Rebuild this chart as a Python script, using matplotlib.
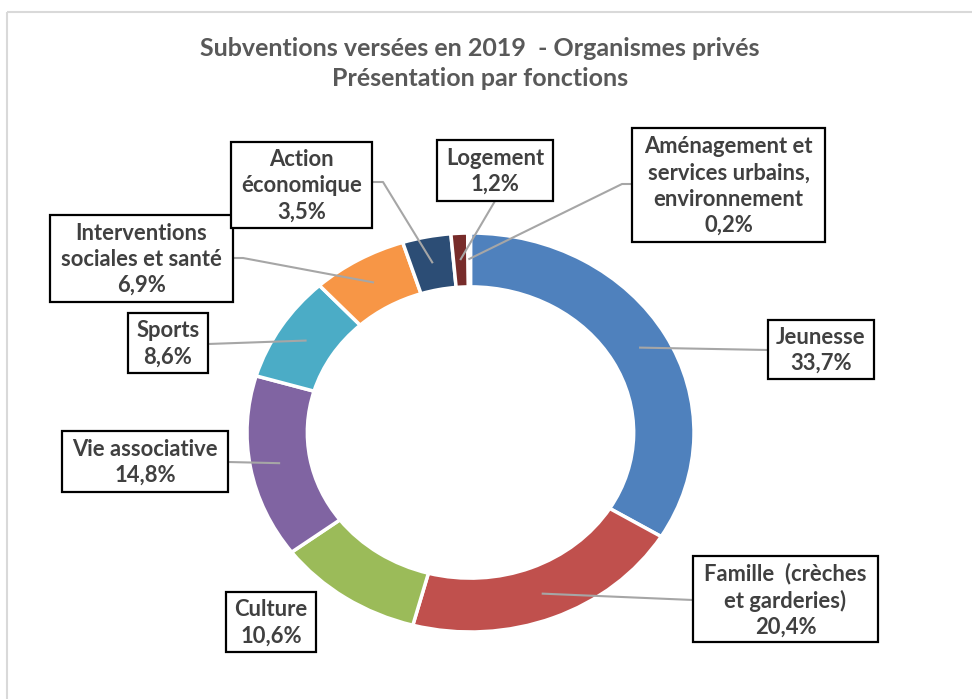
import matplotlib.pyplot as plt
from matplotlib.patches import Rectangle
import numpy as np

# Données : subventions 2019, organismes privés, par fonction (%)
categories = ['Jeunesse', 'Famille  (crèches\net garderies)', 'Culture', 'Vie associative',
              'Sports', 'Interventions\nsociales et santé', 'Action\néconomique',
              'Logement', 'Aménagement et\nservices urbains,\nenvironnement']
values = [33.7, 20.4, 10.6, 14.8, 8.6, 6.9, 3.5, 1.2, 0.2]
value_labels = ['33,7%', '20,4%', '10,6%', '14,8%', '8,6%', '6,9%', '3,5%', '1,2%', '0,2%']
colors = ['#4F81BD', '#C0504D', '#9BBB59', '#8064A2', '#4BACC6',
          '#F79646', '#2C4D75', '#772C2A', '#4F6228']

# label boxes in pixels (x0, y0, x1, y1), leader end on box and optional elbow
boxes = [(768, 320, 874, 379), (693, 556, 878, 642), (226, 592, 316, 652),
         (62, 431, 228, 492), (128, 313, 208, 373), (50, 215, 233, 302),
         (231, 142, 372, 228), (437, 140, 553, 201), (632, 128, 825, 242)]
leader_ends = [(768, 350), (693, 600), None, (228, 462), (208, 344),
               (233, 258), (372, 182), (495, 201), (632, 184)]
elbows = [None, None, None, None, None, (243, 258), (383, 182), None, (622, 184)]

W, H = 972, 699
CX, CY, RX, RY = 470.5, 432.5, 223.5, 199.5

plt.rcParams['font.family'] = ['Lato', 'DejaVu Sans']
fig = plt.figure(figsize=(W / 100, H / 100), dpi=100)

# donut axes (slightly elliptical like the original)
ax = fig.add_axes([(CX - RX) / W, (H - CY - RY) / H, 2 * RX / W, 2 * RY / H])
wedges, _ = ax.pie(values, colors=colors, startangle=90, counterclock=False, radius=1,
                   wedgeprops=dict(width=0.27, edgecolor='white', linewidth=2.5))
ax.set_aspect('auto')
ax.set_xlim(-1, 1)
ax.set_ylim(-1, 1)
ax.axis('off')


def to_data(px, py):
    return (px - CX) / RX, (CY - py) / RY


# leader lines from wedge middle to label box
for w, end, elbow in zip(wedges, leader_ends, elbows):
    if end is None:
        continue
    a = np.deg2rad((w.theta1 + w.theta2) / 2)
    xs = [0.87 * np.cos(a)]
    ys = [0.87 * np.sin(a)]
    for p in (elbow, end):
        if p is not None:
            x, y = to_data(*p)
            xs.append(x)
            ys.append(y)
    ax.plot(xs, ys, color='#A6A6A6', lw=1.5, clip_on=False, zorder=3)

# overlay in pixel coordinates for frame, title and label boxes
ov = fig.add_axes([0, 0, 1, 1], zorder=5)
ov.set_xlim(0, W)
ov.set_ylim(H, 0)
ov.axis('off')
ov.patch.set_alpha(0)

ov.add_patch(Rectangle((7, 12), 1000, 720, fill=False, ec='#D9D9D9', lw=1.5))

ov.text(480, 48, 'Subventions versées en 2019  - Organismes privés',
        ha='center', va='center', fontsize=18, fontweight='bold', color='#595959')
ov.text(480, 79, 'Présentation par fonctions',
        ha='center', va='center', fontsize=18, fontweight='bold', color='#595959')

for cat, lab, (x0, y0, x1, y1) in zip(categories, value_labels, boxes):
    ov.add_patch(Rectangle((x0, y0), x1 - x0, y1 - y0, fc='white', ec='black', lw=1.6))
    ov.text((x0 + x1) / 2, (y0 + y1) / 2 + 1, cat + '\n' + lab, ha='center', va='center',
            fontsize=15.8, fontweight='bold', color='#404040', linespacing=1.3)

fig.savefig('out.png', dpi=100)
